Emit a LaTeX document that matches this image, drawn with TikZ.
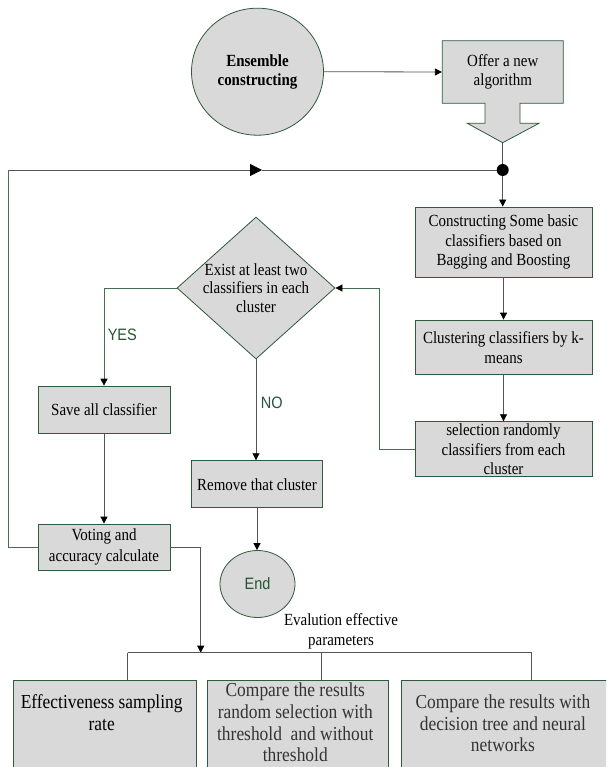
\documentclass[tikz,border=0pt]{standalone}
\usepackage{fontspec}
\setmainfont{Liberation Serif}[FakeStretch=0.88]
\newfontfamily\lsans{Liberation Sans}[FakeStretch=0.88]
\usetikzlibrary{arrows.meta,shapes.geometric}
\definecolor{boxfill}{RGB}{217,217,217}
\definecolor{boxedge}{RGB}{47,90,60}
\definecolor{lblgreen}{RGB}{38,84,52}
\definecolor{linegray}{RGB}{85,85,85}
\definecolor{fbgreen}{RGB}{70,110,82}
\begin{document}
\begin{tikzpicture}[x=1pt,y=-1pt,
  procbox/.style={draw=boxedge, fill=boxfill, line width=0.8pt, inner sep=0pt, align=center,
    font=\fontsize{17}{19.5}\selectfont},
  bigtxt/.style={align=center, inner sep=0pt, font=\fontsize{19.8}{21.7}\selectfont},
  midtxt/.style={align=center, inner sep=0pt, font=\fontsize{17}{19.5}\selectfont},
  lbl/.style={inner sep=0pt, text=lblgreen, font=\lsans\fontsize{16.5}{17}\selectfont},
  conn/.style={draw=linegray, line width=0.8pt},
  arr/.style={conn, -{Triangle[length=7pt,width=7pt,color=black]}},
  gline/.style={draw=fbgreen, line width=0.8pt},
  garr/.style={gline, -{Triangle[length=7pt,width=7pt,color=black]}}
]
\useasboundingbox (0,0) rectangle (606,767);
\fill[white] (0,0) rectangle (606,767);
\clip (0,0) rectangle (606,767);

% top
\node[procbox, shape=ellipse, minimum width=132pt, minimum height=127pt,
  font=\bfseries\fontsize{17}{19}\selectfont] (ens) at (257.5,71.7) {Ensemble\\constructing};
\draw[draw=boxedge, fill=boxfill, line width=0.8pt]
  (442.3,40.7) -- (563.3,40.7) -- (563.3,103.3) -- (520,103.3) -- (520,123.3) -- (539,123.3)
  -- (502.7,142.7) -- (467.3,123.3) -- (485,123.3) -- (485,103.3) -- (442.3,103.3) -- cycle;
\node[procbox, draw=none, fill=none, minimum width=121pt, minimum height=62.6pt,
  font=\fontsize{17}{19}\selectfont] (offer) at (502.8,72) {Offer a new\\algorithm};
\coordinate (offtip) at (502.7,142.7);
\node[circle, fill=black, inner sep=0pt, minimum size=12pt] (dot) at (502.7,170) {};

% right column
\node[procbox, minimum width=177pt, minimum height=70pt] (cons) at (503.5,242)
  {Constructing Some basic\\classifiers based on\\Bagging and Boosting};
\node[procbox, minimum width=177pt, minimum height=54.4pt, font=\fontsize{17}{20}\selectfont] (clust) at (503.5,347.2)
  {Clustering classifiers by k-\\means};
\node[procbox, minimum width=177pt, minimum height=55pt, font=\fontsize{17}{19.2}\selectfont] (sel) at (503.5,449.2)
  {selection randomly\\classifiers from each\\cluster};

% decision
\node[draw=boxedge, fill=boxfill, shape=diamond, minimum width=158pt, minimum height=142pt,
  inner sep=0pt, line width=0.8pt] (exist) at (256,288) {};
\node[midtxt, font=\fontsize{17}{18.8}\selectfont] (existtxt) at (256,288)
  {Exist at least two\\classifiers in each\\cluster};

% left column
\node[procbox, minimum width=132pt, minimum height=47.3pt] (save) at (104,409.7) {Save all classifier};
\node[procbox, minimum width=132pt, minimum height=46pt, font=\fontsize{17}{20.6}\selectfont] (vote) at (104,547)
  {Voting and\\accuracy calculate};
\node[procbox, minimum width=131.6pt, minimum height=47pt] (remove) at (257,484.2) {Remove that cluster};
\node[procbox, shape=ellipse, minimum width=75pt, minimum height=67pt,
  text=lblgreen, font=\lsans\fontsize{16.5}{17}\selectfont] (end) at (257.5,584) {End};

% labels
\node[lbl] (yes) at (122.3,335) {YES};
\node[lbl] (no) at (271.7,403.3) {NO};
\node[midtxt, font=\fontsize{17}{20}\selectfont] (eval) at (341,631.7) {Evalution effective\\parameters};

% bottom boxes
\node[procbox, anchor=north west, minimum width=183pt, minimum height=110pt] (b1) at (13,679.7) {};
\node[procbox, anchor=north west, minimum width=181pt, minimum height=110pt] (b2) at (207,679.7) {};
\node[procbox, anchor=north west, minimum width=209pt, minimum height=110pt] (b3) at (401,679.7) {};
\node[bigtxt] (b1t) at (101.7,712.5) {Effectiveness sampling\\rate};
\node[bigtxt, text=black!80] (b2t) at (295.3,722.5)
  {Compare the results\\random selection with\\threshold\ \ and without\\threshold};
\node[bigtxt, text=black!80] (b3t) at (502.9,723.3)
  {Compare the results with\\decision tree and neural\\networks};

% connectors
\draw[arr] (ens.east) -- (offer.west);
\draw[conn] (offtip) -- (dot);
\coordinate (lc) at (8.3,170);
\coordinate (mid) at (262,170);
\draw[conn, -{Triangle[length=12pt,width=12pt,color=black]}] (lc) -- (mid);
\draw[conn] (mid) -- (dot);
\draw[arr] (dot) -- (dot |- cons.north);
\draw[arr] (cons.south) -- (clust.north);
\draw[arr] (clust.south) -- (sel.north);
\coordinate (fb) at (379,449.2);
\draw[garr] (sel.west) -- (fb) |- (exist.east);
\draw[garr] (exist.west) -| (save.north);
\draw[arr] (save.south) -- (vote.north);
\draw[arr] (exist.south) -- (exist.south |- remove.north);
\draw[arr] (remove.south) -- (remove.south |- end.north);
\draw[gline] (vote.west) -| (lc);
\coordinate (vb) at (200.7,652.7);
\draw[arr] (vote.east) -| (vb);
\coordinate (h1) at (127.7,652.7);
\coordinate (h2) at (321.7,652.7);
\coordinate (h3) at (531.7,652.7);
\draw[conn] (h1) -- (h3);
\draw[conn] (h1) -- (h1 |- b1.north);
\draw[conn] (h2) -- (h2 |- b2.north);
\draw[conn] (h3) -- (h3 |- b3.north);
\end{tikzpicture}
\end{document}
